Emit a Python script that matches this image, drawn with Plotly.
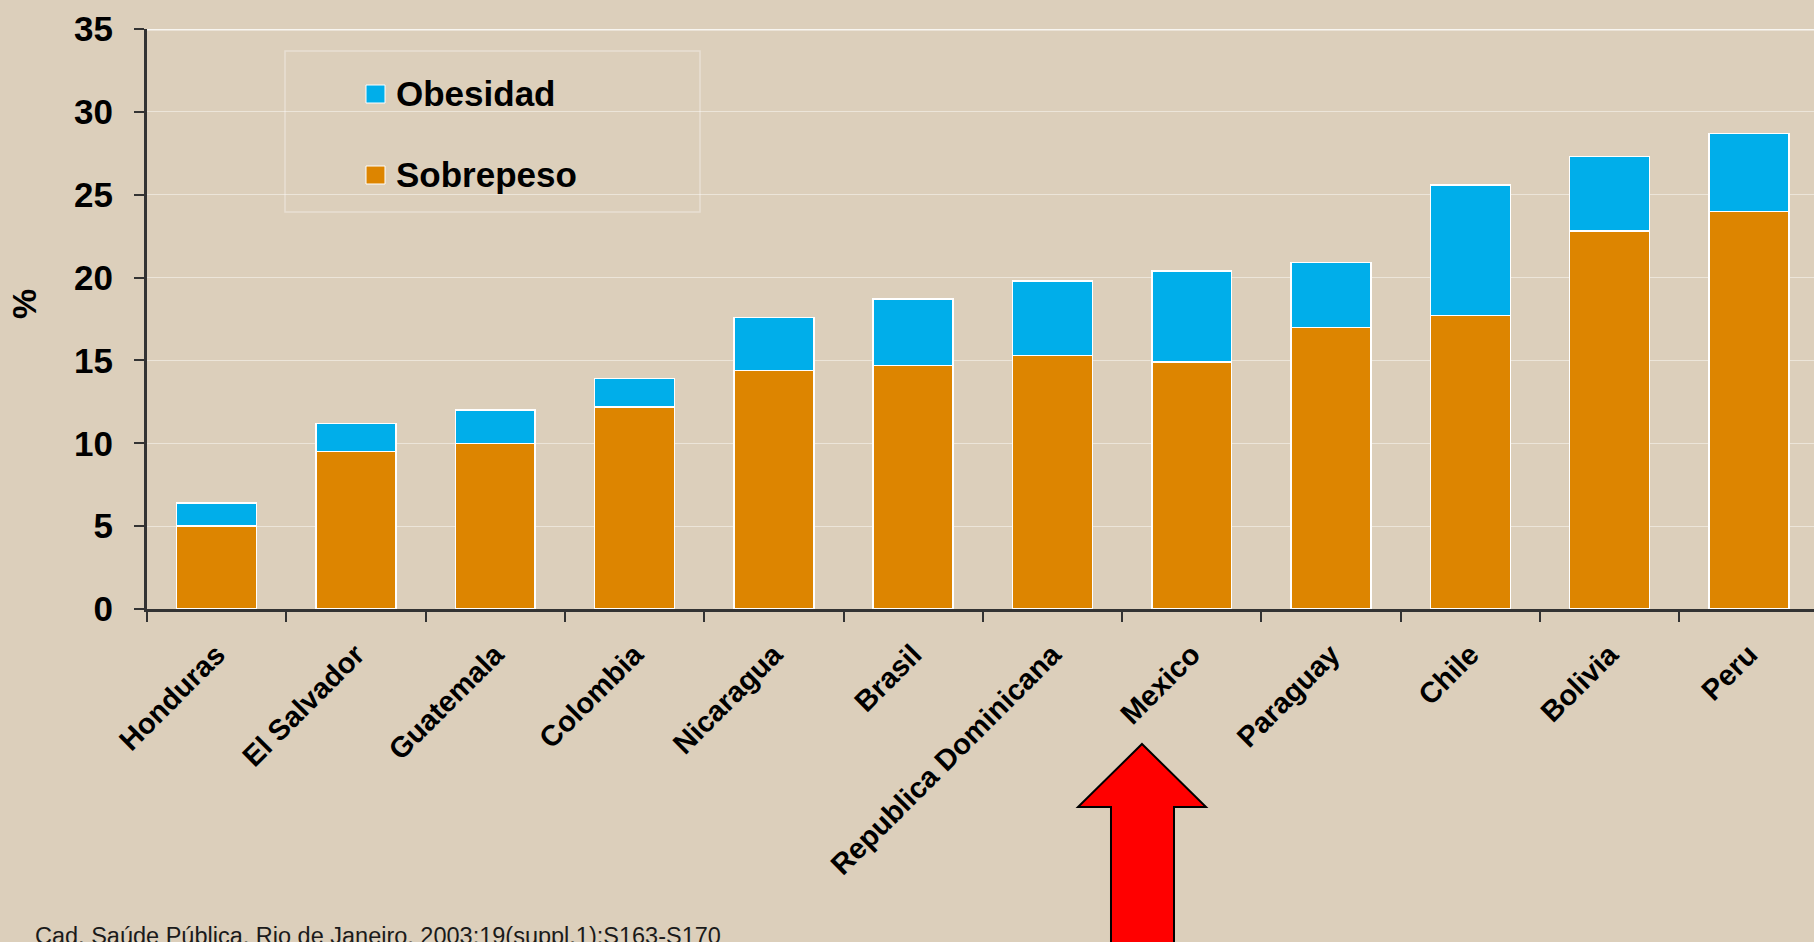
import plotly.graph_objects as go

# Prevalence (%) of overweight and obesity by country
paises = ["Honduras", "El Salvador", "Guatemala", "Colombia", "Nicaragua", "Brasil",
          "Republica Dominicana", "Mexico", "Paraguay", "Chile", "Bolivia", "Peru"]
sobrepeso = [5.0, 9.5, 10.0, 12.2, 14.4, 14.7, 15.3, 14.9, 17.0, 17.7, 22.8, 24.0]
obesidad = [1.4, 1.7, 2.0, 1.7, 3.2, 4.0, 4.5, 5.5, 3.9, 7.9, 4.5, 4.7]
y_ticks = [0, 5, 10, 15, 20, 25, 30, 35]
serie_sobrepeso = "Sobrepeso"
serie_obesidad = "Obesidad"
eje_y = "%"
fuente = "Cad. Saúde Pública, Rio de Janeiro, 2003;19(suppl.1):S163-S170"

W, H = 1814, 942
ML, MR, MT, MB = 147, 0, 29, 333
CAT_PX = 139.3  # width of one category slot in pixels

BG = "#DCCFBB"
C_SOB = "#DD8500"
C_OBE = "#00AEEA"
AXIS = "#333333"
FONT = "Liberation Sans"


def px_x(px):
    return (px - ML) / (W - ML - MR)


def px_y(py):
    return (H - MB - py) / (H - MT - MB)


fig = go.Figure()
fig.add_trace(go.Bar(
    x=paises, y=sobrepeso, name=serie_sobrepeso, showlegend=False,
    marker=dict(color=C_SOB, line=dict(color="white", width=1.5)),
))
fig.add_trace(go.Bar(
    x=paises, y=obesidad, name=serie_obesidad, showlegend=False,
    marker=dict(color=C_OBE, line=dict(color="white", width=1.5)),
))

x_span = (W - ML - MR) / CAT_PX

fig.update_layout(
    width=W, height=H,
    margin=dict(l=ML, r=MR, t=MT, b=MB, pad=0),
    paper_bgcolor=BG, plot_bgcolor=BG,
    barmode="stack", bargap=0.426,
    font=dict(family=FONT, color="black"),
    xaxis=dict(
        type="category", range=[-0.5, -0.5 + x_span],
        tickson="boundaries", ticks="outside", ticklen=10, tickwidth=2, tickcolor=AXIS,
        showline=True, linecolor=AXIS, linewidth=3, showgrid=False,
        tickangle=-45, tickfont=dict(size=29, weight="bold", color="black"),
        ticklabelstandoff=14,
    ),
    yaxis=dict(
        range=[0, 35], tickvals=y_ticks, ticks="outside", ticklen=10, tickwidth=2,
        tickcolor=AXIS, showline=True, linecolor=AXIS, linewidth=3,
        showgrid=True, gridcolor="rgba(255,255,255,0.45)", gridwidth=1.2, zeroline=False,
        tickfont=dict(size=35, weight="bold", color="black"), ticklabelstandoff=14,
    ),
)

# brighter top rule at 35
fig.add_shape(type="line", xref="paper", yref="y", x0=0, x1=1, y0=35, y1=35,
              line=dict(color="rgba(255,255,255,0.8)", width=3), layer="below")

# y-axis title
fig.add_annotation(text=eje_y, xref="paper", yref="paper", x=px_x(24), y=px_y(304),
                   xanchor="center", yanchor="middle", textangle=-90, showarrow=False,
                   font=dict(size=34, weight="bold", color="black"))

# legend frame and entries
fig.add_shape(type="rect", xref="paper", yref="paper",
              x0=px_x(285), x1=px_x(700), y0=px_y(212), y1=px_y(51),
              line=dict(color="rgba(255,255,255,0.35)", width=1.5), layer="below")
for nombre, color, cy in [(serie_obesidad, C_OBE, 94), (serie_sobrepeso, C_SOB, 175)]:
    fig.add_shape(type="rect", xref="paper", yref="paper",
                  x0=px_x(366), x1=px_x(385), y0=px_y(cy + 9), y1=px_y(cy - 9),
                  fillcolor=color, line=dict(color="white", width=1))
    fig.add_annotation(text=nombre, xref="paper", yref="paper", x=px_x(394), y=px_y(cy),
                       xanchor="left", yanchor="middle", showarrow=False,
                       font=dict(size=35, weight="bold", color="black"))

# red up arrow under Mexico
pts = [(1142, 744), (1206, 807), (1174, 807), (1174, 980), (1111, 980), (1111, 807), (1078, 807)]
path = "M " + " L ".join(f"{px_x(a):.5f},{px_y(b):.5f}" for a, b in pts) + " Z"
fig.add_shape(type="path", xref="paper", yref="paper", path=path,
              fillcolor="#FF0000", line=dict(color="black", width=2))

# source note
fig.add_annotation(text=fuente, xref="paper", yref="paper", x=px_x(33), y=px_y(921),
                   xanchor="left", yanchor="top", showarrow=False,
                   font=dict(size=23.5, color="#1a1a1a", family=FONT))

fig.write_html("out.html")
